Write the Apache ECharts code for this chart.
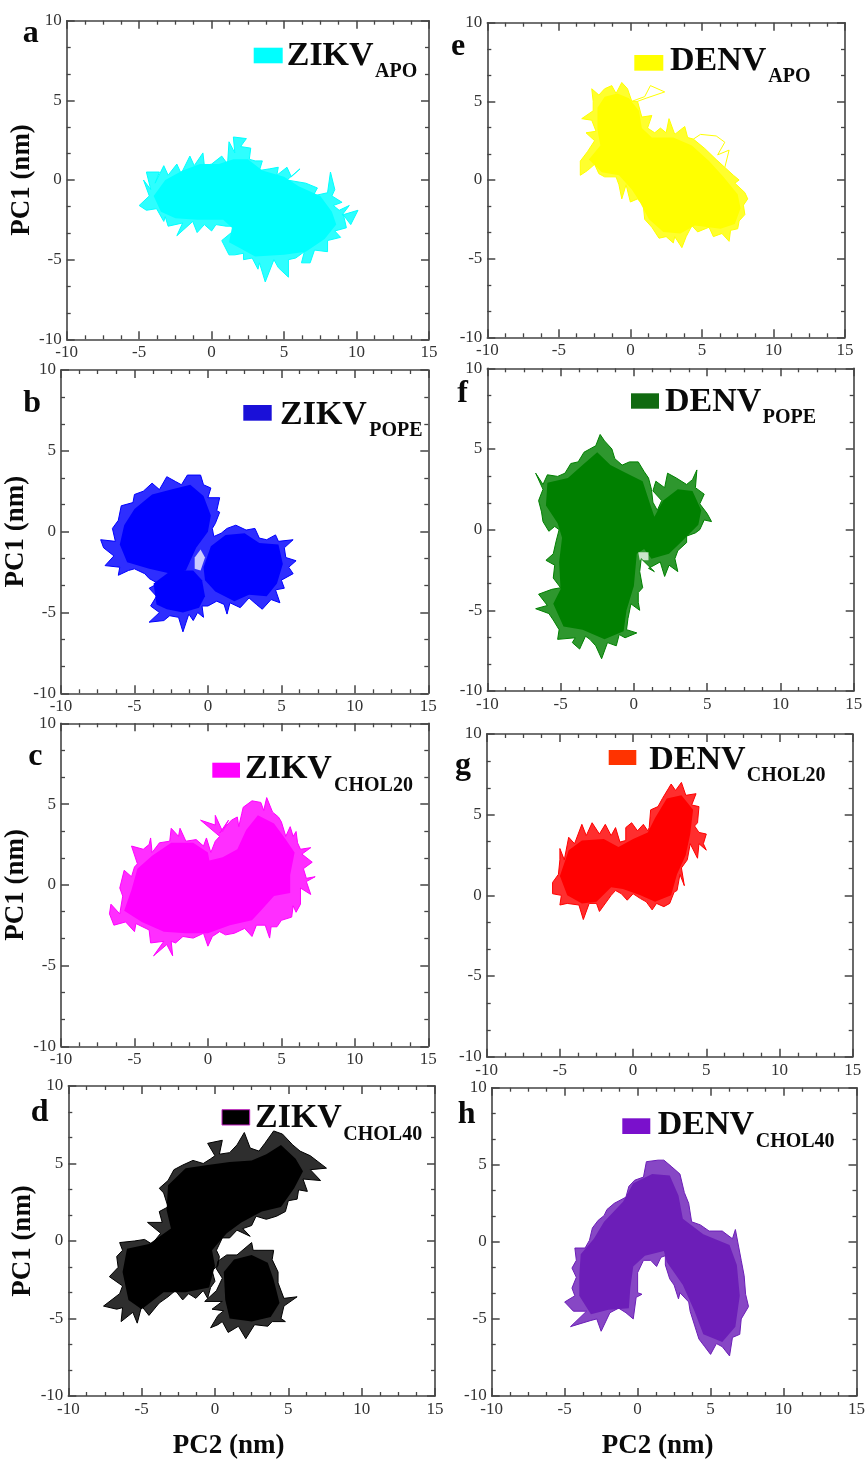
<!DOCTYPE html>
<html><head><meta charset="utf-8">
<style>html,body{margin:0;padding:0;background:#fff}#c{width:868px;height:1461px;filter:blur(0.6px)}</style>
<script src="https://cdn.jsdelivr.net/npm/echarts@6/dist/echarts.min.js"></script>
</head><body><div id="c"></div>
<script>
// Tick labels come from the axes: PC2 from -10 to 15, PC1 from -10 to 10.
const aFringe=[[-5,-1.6],[-4.3,-1],[-4.7,0],[-4.2,-0.6],[-4.5,0.5],[-3.6,0.5],[-3.9,-0.2],[-3.3,0.9],[-3,0.3],[-2.4,1],[-2.1,0.4],[-1.5,1.5],[-1.2,0.9],[-0.6,1.7],[-0.5,0.9],[0,1],[0.7,1.5],[1.1,1],[1.2,2.4],[1.6,1.7],[1.5,2.7],[2.4,2.6],[2,2.1],[2.7,2],[2.6,1.3],[3,1.2],[3.5,1.2],[3.3,0.6],[4,0.7],[4.6,0.8],[4.5,0.3],[5.2,0.8],[5.5,0.2],[6.1,0.7],[5.2,0],[6.5,-0.2],[7.3,-0.5],[7,-1],[8,-0.8],[8.2,0.5],[8.5,-0.6],[8.3,-1],[9,-1.4],[8.4,-1.6],[8.8,-1.9],[9.5,-1.6],[9,-2.2],[10.1,-1.9],[9.6,-2.8],[9.1,-2.2],[9.3,-3],[8.5,-3.2],[8.9,-3.6],[8,-3.8],[8,-4.5],[7.1,-4.4],[6.8,-5.2],[6.2,-5.2],[6.4,-4.5],[5.8,-4.9],[5.3,-5],[5.3,-6.1],[4.6,-5.5],[4.3,-5],[3.7,-6.4],[3.3,-5.2],[3.2,-5.6],[2.8,-4.9],[2.2,-5],[2.2,-4.6],[1.6,-4.7],[1.2,-4.7],[0.7,-3.8],[1.5,-3.2],[1.7,-2.9],[1,-2.9],[0.3,-2.8],[0,-3.2],[-0.5,-2.8],[-1,-3.3],[-1.3,-2.6],[-2.4,-3.5],[-2,-2.7],[-3,-2.9],[-3.2,-2.3],[-3.3,-2.6],[-3.8,-1.8],[-4.5,-1.9],[-5,-1.6]];
const aBody=[[-4,-1],[-3.2,0],[-2,0.6],[-0.8,1],[0.5,1],[1.5,1.3],[2.5,1.3],[3.5,0.6],[5,0.2],[6,-0.4],[7.5,-1],[8.3,-2],[8.6,-2.8],[7.8,-3.7],[6.5,-4.5],[5,-4.7],[3,-4.8],[2,-4.3],[1.2,-3.9],[1.4,-3],[0.8,-2.5],[-1,-2.5],[-2.5,-2.4],[-3.5,-2]];
const eFringe=[[-3.5,0.3],[-3.5,1.2],[-3,1.8],[-2.5,2.5],[-3.1,3],[-2.4,3.1],[-2.7,3.8],[-3.4,3.9],[-2.6,4.4],[-2.6,5],[-2.7,5.8],[-2.2,5.4],[-1.8,5.8],[-1.3,6],[-1,5.5],[-0.6,6.2],[-0.2,5.8],[0.1,5],[0.5,5],[0.8,4],[1.5,4.1],[1.2,3.3],[1.7,3],[2.1,3.3],[2.5,3],[2.7,3.9],[3.1,2.9],[3.8,3.4],[4,2.7],[4.4,2.6],[5.2,2],[6,1.3],[6.6,0.8],[7.2,0.3],[7.6,0],[7.3,-0.2],[8,-0.8],[8.2,-1.2],[7.9,-1.6],[8,-2.2],[7.6,-2.6],[7.5,-3.1],[7,-3.2],[6.9,-3.9],[6.4,-3.4],[5.8,-3.6],[5.5,-3],[4.7,-3.3],[4.3,-2.9],[3.9,-3.6],[3.6,-4.3],[3.1,-3.6],[3,-4],[2.5,-3.6],[2,-3.7],[1.5,-3],[1,-2.5],[0.9,-1.6],[0.5,-1.2],[0,-1.4],[-0.3,-0.3],[-0.6,-1.2],[-0.8,-0.3],[-1,0.2],[-1.8,0.2],[-2.2,0.4],[-2.5,1],[-3,0.6],[-3.5,0.3]];
const eLoopTop=[[0.1,5],[0.4,5.1],[1,5.3],[1.4,6],[2.4,5.6],[1.1,5.2],[0.5,5]];
const eLoopRight=[[4.4,2.6],[4.9,2.9],[6,2.8],[6.6,2.4],[6.1,1.6],[6.9,1.9],[6.6,0.8]];
const eBody=[[-2.9,1.3],[-2.1,2.2],[-2.3,3.2],[-2.3,4.6],[-1.8,5.3],[-0.9,5.5],[-0.1,5.2],[0.6,4.4],[0.8,3.3],[1.5,2.7],[3,2.7],[4.3,2.2],[5.5,1.2],[6.5,0.2],[7.5,-0.9],[7.7,-1.8],[7.3,-2.8],[6.3,-3.1],[4.5,-2.9],[3.5,-3.4],[2.3,-3.3],[1.3,-2.5],[0.6,-1.3],[0.1,-0.6],[-0.8,0.3],[-2,0.5]];
const bFringe=[[-7.3,-0.5],[-6.3,-0.6],[-6.5,0.2],[-6.1,0.7],[-5.9,1.6],[-5.1,1.8],[-5,2.3],[-4.4,2.5],[-3.8,3],[-3.3,2.6],[-2.8,3.4],[-2.2,3.1],[-1.8,2.9],[-1.4,3.5],[-0.5,3.5],[-0.3,2.9],[0.2,2.7],[0,2.1],[0.8,2.1],[0.6,1.3],[0.8,1.2],[0.5,0.5],[0.3,0.2],[0.4,-0.3],[0.9,-0.1],[1.3,0.2],[1.9,0.4],[2.6,0.1],[3.2,0.2],[3.5,-0.4],[4,-0.5],[4.6,-0.2],[4.8,-0.6],[5.8,-0.5],[5.2,-1],[5.3,-1.6],[6,-1.8],[5.5,-2.2],[5.8,-2.6],[5,-3],[5.2,-3.5],[4.6,-3.6],[4.9,-4.4],[4.3,-4.2],[3.7,-4.8],[3.3,-4.5],[2.8,-4.1],[2.2,-4.7],[1.5,-4.4],[1.3,-5.1],[1.1,-4.5],[0.6,-4.3],[0,-4.6],[-0.4,-4.6],[-0.3,-5.3],[-0.7,-5],[-1,-5.5],[-1.3,-5.1],[-1.7,-6.2],[-2,-5.3],[-2.6,-5.2],[-3,-5.5],[-4,-5.6],[-3.3,-5],[-3.9,-4.6],[-3.5,-4],[-4,-3.5],[-3.4,-3.2],[-4,-2.9],[-4.3,-2.6],[-5,-2.3],[-5.4,-2.4],[-6.1,-2.7],[-6,-2.2],[-7,-2.1],[-6.4,-1.5],[-7.1,-1],[-7.3,-0.5]];
const bBodyTop=[[-6,-0.8],[-5.7,0.4],[-5,1.4],[-3.8,2.3],[-2.5,2.6],[-1.2,2.9],[-0.3,2.2],[0.2,1],[0,0],[-0.8,-1],[-1.5,-2.4],[-2.5,-2.6],[-4,-2.3],[-5.5,-1.9]];
const bBodyRight=[[-0.3,-2.2],[0.2,-0.9],[1.2,-0.2],[2.5,-0.1],[3.5,-0.7],[4.8,-0.8],[5.1,-2],[4.7,-3.2],[4,-4],[2.8,-3.9],[1.8,-4.3],[0.5,-3.7],[-0.2,-3]];
const bBodyLow=[[-3.7,-3.2],[-2.5,-2.4],[-1,-2.4],[-0.4,-3],[-0.2,-4],[-0.6,-4.7],[-1.7,-5],[-2.8,-4.8],[-3.5,-4.5]];
const bGap=[[-0.9,-1.6],[-0.5,-1.1],[-0.2,-1.6],[-0.5,-2.4],[-0.9,-2.3]];
const fFringe=[[-6.7,3.5],[-6.2,2.8],[-5.9,3.4],[-5.2,3.3],[-4.7,3.5],[-4.3,4.1],[-3.8,4.2],[-3.4,4.8],[-3,5],[-2.6,5.2],[-2.3,5.9],[-2,5.5],[-1.5,5],[-1.3,4.4],[-0.8,4],[-0.3,4.2],[0.3,4.2],[0.7,3.6],[1,3.2],[1.2,2.5],[1.3,1.7],[1.6,1.2],[1.9,1.8],[1.3,2.4],[1.5,3],[2.1,2.6],[2.3,3.5],[2.9,3.2],[3.6,2.8],[4,3.1],[4.3,3.7],[4.2,2.6],[4.8,2.2],[4.5,1.6],[5,1],[5.3,0.5],[4.8,0.6],[4.5,0],[4.2,-0.2],[3.6,-0.4],[3.6,-0.8],[3,-1.3],[2.8,-1.8],[3,-2.6],[2.4,-2.2],[2.1,-2.9],[1.8,-2],[1,-2.4],[1.4,-2.6],[0.5,-1.8],[0.4,-2.6],[0.6,-3.6],[0.3,-3.9],[0.3,-4.5],[0.4,-5],[-0.2,-4.6],[-0.4,-5.5],[-0.5,-6.2],[0.2,-6.4],[-0.6,-6.7],[-1,-6.5],[-1.2,-7.2],[-1.8,-7],[-2.2,-8],[-2.6,-7.2],[-3,-6.8],[-3.3,-6.6],[-3.7,-7.4],[-4.2,-7],[-4,-6.7],[-5.2,-6.8],[-5.1,-6.2],[-5.5,-5.6],[-5.8,-5.2],[-6.7,-4.9],[-5.9,-4.7],[-6.5,-4],[-5.6,-3.7],[-5,-3.6],[-5.5,-3],[-5.4,-2.2],[-6,-1.9],[-5.5,-1.5],[-5.3,-0.7],[-5.1,0],[-5.4,0.2],[-5.8,-0.1],[-6.2,0.5],[-6.3,1.1],[-6.5,1.8],[-6.2,2.5],[-6.7,3.5]];
const fBody=[[-6,1.5],[-5.9,2.9],[-4.5,3.2],[-3.5,4],[-2.5,4.8],[-1.6,4],[-0.5,3.5],[0.6,3],[1.1,1.6],[1.4,0.8],[2,1.8],[3,2.5],[4,2.4],[4.6,1.2],[4.4,0.3],[3.3,-0.7],[2.4,-1.5],[1.2,-1.8],[0.7,-1.2],[0.2,-1.5],[0,-3.5],[-0.5,-5],[-0.7,-6.3],[-2,-6.8],[-3.5,-6.2],[-4.8,-6],[-5.5,-4.6],[-5,-3.7],[-5.1,-2],[-4.9,-0.5],[-5.2,0.4]];
const fGap=[[0.3,-1.4],[1,-1.4],[1,-1.9],[0.4,-1.9]];
const cFringe=[[-6.7,-1.8],[-6.6,-1.2],[-6,-1.8],[-5.8,-0.7],[-6,-0.2],[-5.7,0.9],[-5.2,0.5],[-5,1.1],[-4.8,1.3],[-5.2,2.4],[-4.4,2.2],[-4,2.5],[-3.9,2.9],[-3.8,2],[-3.3,2.6],[-2.6,2.7],[-2.5,3.5],[-2,3],[-1.9,3.5],[-1.5,2.7],[-0.8,2.8],[-0.3,2.4],[-0.1,2.9],[0.2,2],[0.5,2.7],[0.8,3],[-0.5,4],[0.5,3.7],[0.5,4.3],[1,3.3],[1.4,4],[0.8,3.2],[1.6,4],[2,4.2],[2.1,3.6],[2.3,4.4],[2.4,4.8],[3,5.2],[3.6,5.1],[3.8,4.6],[4,5.4],[4.4,4.5],[4.8,4.2],[5,3.9],[5.3,3],[5.6,3.6],[5.8,3],[6,3.3],[6.1,2.6],[6.3,2.2],[7,2.3],[6.4,1.9],[7.1,1.4],[6.5,1],[6.7,0.4],[7.3,0.5],[6.7,0.2],[7,-0.6],[6.3,-0.2],[6.3,-1.2],[6,-1.7],[5.8,-1.3],[5.7,-2],[5,-2.2],[4.7,-2.6],[4.3,-2.6],[4.2,-3.3],[3.9,-2.5],[3.3,-2.5],[3,-3.2],[2.5,-2.7],[1.8,-3],[1.2,-3.1],[0.8,-2.9],[0.3,-3.2],[0,-3.8],[-0.3,-3],[-1,-3.3],[-1.7,-3.2],[-2.2,-3.6],[-2.5,-3.5],[-2.4,-4.4],[-2.8,-3.7],[-3.7,-4.4],[-3,-3.5],[-3.9,-3.6],[-4,-2.8],[-4.9,-2.4],[-5,-2.9],[-5.6,-2.3],[-6.4,-2.5],[-6.7,-1.8]];
const cBody=[[-5.7,-1.6],[-5.2,-0.3],[-4.8,1],[-3.8,1.8],[-2.5,2.6],[-1,2.6],[0,2],[0.1,1.5],[1,1.7],[2,2.2],[2.6,3.4],[3.4,4.3],[4.5,3.8],[5.3,2.8],[5.9,2],[5.6,0.6],[5.6,-0.5],[4.5,-0.7],[3.6,-1.6],[3,-2.2],[1.5,-2.5],[0,-3],[-1.5,-3],[-3,-2.9],[-4.5,-2.3]];
const gFringe=[[-5.5,0.1],[-5.5,0.8],[-5.1,1.3],[-5,2.2],[-5,2.9],[-4.7,2.2],[-4.4,3.6],[-4,3.2],[-3.5,4.4],[-3.2,3.7],[-2.8,4.5],[-2.3,3.8],[-1.9,4.4],[-1.5,3.7],[-1.2,4.2],[-0.9,3.3],[-0.5,3.4],[-0.5,4.2],[-0.1,4.5],[0.3,4],[0.7,4.4],[1,4],[1.1,4.2],[1.2,5.3],[1.7,5.5],[2,6],[2.4,6.6],[2.6,6.9],[2.9,6.5],[3.3,7],[3.6,6.2],[4.3,6.3],[4,5.6],[4.5,5.5],[4.4,4.5],[4.2,4.3],[4.5,3.9],[5,3.8],[4.8,3.2],[5,2.8],[4.5,3.2],[4.4,2.3],[3.9,3.2],[3.7,2.2],[3.3,1.7],[3.5,0.6],[3.2,1.3],[3,0.3],[2.8,0.2],[2.5,-0.5],[2.1,-0.7],[1.6,-0.5],[1.3,-0.9],[0.9,-0.4],[0.5,-0.2],[0,0.1],[-0.4,-0.3],[-0.8,0.1],[-1.2,0.3],[-1.5,0],[-2.3,-1],[-2.5,-0.5],[-3,-0.5],[-3.4,-1.5],[-3.7,-0.6],[-4.5,-0.5],[-5,-0.6],[-4.9,0],[-5.5,0.1]];
const gBody=[[-5,1.2],[-4.4,2.8],[-3.5,3.4],[-2,3.5],[-1,3],[0,3.5],[1,3.9],[1.5,4.8],[2.3,6],[3.3,6.2],[4.1,5.3],[3.9,3.8],[3.6,2.5],[3,1.3],[2.6,0],[1.5,-0.4],[0.5,0],[-0.7,0.4],[-1.5,0.5],[-2.5,-0.4],[-3.5,-0.5],[-4.5,0]];
const dFringe=[[-7.6,-4.2],[-6.5,-3.4],[-6.3,-2.9],[-7.2,-2.3],[-6.6,-1.7],[-6.7,-1],[-6.3,-0.6],[-6.5,-0.1],[-5.5,0],[-4.8,0.1],[-4.3,-0.2],[-3.7,0.5],[-4.6,1.2],[-3.6,1.2],[-3.8,1.9],[-3.2,2.2],[-3.5,3.1],[-3.8,3.4],[-3.2,3.9],[-2.8,4.6],[-2.2,4.9],[-1.5,5.2],[-0.8,5],[-0.3,5.3],[0,5.5],[-0.5,6.3],[0.5,6.5],[0.3,5.6],[1,5.7],[1.5,6.2],[2,7],[2.4,6],[3,5.8],[3.4,6.3],[4,7.1],[4.6,6.9],[5.3,6.2],[5.8,5.8],[6.5,5.5],[7.6,4.7],[6.5,4.6],[7.2,3.9],[6,4],[6.3,3.2],[5.7,3.3],[5.6,2.7],[5,2.6],[4.8,1.9],[4.2,1.6],[3.5,1.4],[2.8,1.6],[2.5,1],[1.9,0.8],[2.4,0.3],[1.5,0.7],[1,0.2],[0.5,0.2],[0.1,-0.6],[0.3,-1],[0.2,-1.6],[-0.2,-1.9],[0,-2.6],[-0.3,-3],[-0.5,-3.7],[-0.8,-3.2],[-1.3,-3.7],[-1.8,-3.4],[-2.2,-3.8],[-2.7,-3.2],[-3.2,-3.6],[-3.8,-4],[-4.5,-4.8],[-5,-4.2],[-5.3,-5.3],[-5.6,-4.6],[-6.4,-5.2],[-6.3,-4.3],[-6.7,-4.4],[-7.6,-4.2]];
const dFringeLow=[[0.2,-1.3],[0.8,-0.9],[1.5,-0.9],[2.5,-0.1],[2.6,-0.6],[3,-0.6],[4,-0.6],[3.9,-1.2],[4.3,-2],[4.3,-2.7],[4.7,-3.7],[5.6,-3.6],[4.7,-4.2],[4.5,-5],[4.8,-5.2],[3.9,-5.2],[3.6,-5.5],[2.7,-5.4],[2.1,-6.3],[1.6,-5.5],[0.9,-5.9],[0.5,-5.2],[0.2,-5.4],[-0.3,-5.6],[0.2,-4.8],[0.6,-4.5],[-0.2,-4.4],[0.5,-3.9],[-0.7,-3.9],[0.1,-3.2],[0.5,-2.4],[0.1,-1.8],[0.2,-1.3]];
const dBodyMain=[[-6.3,-2],[-6,-0.5],[-4.5,-0.2],[-3,0.8],[-3.3,2],[-3.2,3.6],[-2,4.7],[-0.5,4.9],[1,5.1],[2.5,5.2],[3.5,5.6],[4.5,6.2],[5.5,5.3],[6,4.5],[5.4,3.4],[4.5,2.2],[3.2,1.9],[1.8,1.2],[0.8,0.5],[-0.2,-0.6],[0,-1.6],[-0.4,-3],[-2,-3.3],[-3.5,-3.3],[-5,-4.4],[-5.9,-3.8]];
const dBodyLow=[[0.6,-2],[1.3,-1.2],[2.5,-0.9],[3.6,-1.4],[4,-2.5],[4.4,-4],[3.8,-4.9],[2.5,-5.2],[1,-5],[0.7,-3.8]];
const hFringe=[[-5,-3.9],[-4.3,-3.5],[-4.5,-3],[-4.2,-2.3],[-4.5,-1.7],[-4.2,-1.2],[-4.3,-0.4],[-3.6,-0.4],[-3.3,0.1],[-3.1,0.9],[-2.7,1.4],[-2.3,1.7],[-2.1,2.1],[-1.6,2.5],[-0.8,2.9],[-0.6,3.6],[-0.2,4],[0.4,4.2],[0.6,5.2],[1.4,5.3],[1.8,5.3],[2.3,4.9],[2.9,4.4],[3.2,3.2],[3.5,2.5],[3.7,1.3],[4.3,1.1],[4.9,0.7],[5.8,0.7],[6.5,0.2],[6.7,0.8],[6.9,-0.2],[7.1,-1.2],[7.3,-2.2],[7.4,-3.4],[7.6,-4.2],[7.1,-5],[7,-6],[6.5,-6.2],[6.3,-7.4],[5.8,-6.8],[5.4,-6.6],[5,-7.3],[4.6,-6.8],[4.2,-6.3],[3.9,-5.4],[3.6,-4.5],[3.5,-3.9],[2.9,-3.3],[2.8,-3.7],[2.5,-2.8],[2.2,-2.4],[1.9,-1.5],[1.9,-0.9],[1.6,-1],[1.3,-1.6],[0.9,-1.2],[0.4,-1.2],[0,-2],[0,-3.3],[0.3,-3.4],[-0.1,-3.6],[-0.3,-5],[-0.8,-4.6],[-1.3,-4.3],[-1.9,-4.6],[-2.5,-5.8],[-2.8,-5],[-3.2,-5.1],[-4.6,-5.5],[-3.5,-4.5],[-4.4,-4.5],[-5,-3.9]];
const hBody=[[-4,-2.2],[-3.9,-0.8],[-3,0.2],[-2.3,1.3],[-1,2.6],[-0.3,3.8],[1,4.4],[2.2,4.3],[2.8,3],[3.1,1.5],[4.5,0.5],[6.3,-0.2],[6.8,-1.5],[7,-3.5],[6.7,-5.5],[5.8,-6.5],[4.5,-6],[3.9,-4.5],[3.1,-2.8],[2,-1.3],[1.8,-0.6],[0.5,-0.9],[-0.3,-1.6],[-0.5,-3],[-0.6,-4.3],[-2,-4.4],[-3.2,-4.7],[-4,-3.5]];

const panels=[
 {f:[66.7,429,20.7,339.3],c:'#00ffff',sw:'#00ffff',rims:[aFringe],lines:[],bodies:[aBody],letter:['a',22.7,43],rect:[253.7,47.7,29,15.6],main:['ZIKV',286.7,66],sub:['APO',375,78.3],yn:28},
 {f:[487.3,845,22.7,337.3],c:'#ffff00',sw:'#ffff00',rims:[eFringe],lines:[eLoopTop,eLoopRight],bodies:[eBody],letter:['e',451,56.7],rect:[634.3,55,29,15.7],main:['DENV',670,71],sub:['APO',768.3,83.3]},
 {f:[61,428.3,370,693.3],c:'#0000ff',sw:'#1a10d8',rims:[bFringe],lines:[],gaps:[bGap],bodies:[bBodyTop,bBodyRight,bBodyLow],letter:['b',23.3,413.3],rect:[243.3,405,28.4,15.7],main:['ZIKV',280,425],sub:['POPE',369.3,437.3],yn:25},
 {f:[487.3,853.7,368.3,691],c:'#008000',sw:'#106a10',rims:[fFringe],lines:[],gaps:[fGap],bodies:[fBody],letter:['f',457.3,403.3],rect:[631,393.3,28,15.4],main:['DENV',665,412.7],sub:['POPE',762.7,424.3]},
 {f:[61,428.3,723.3,1046.3],c:'#ff00ff',sw:'#ff00ff',rims:[cFringe],lines:[],bodies:[cBody],letter:['c',28.3,766.7],rect:[212.3,762.7,27.7,15],main:['ZIKV',245,779],sub:['CHOL20',334,791.7],yn:28},
 {f:[486.7,852.7,734,1056.7],c:'#ff0000',sw:'#ff3300',rims:[gFringe],lines:[],bodies:[gBody],letter:['g',455,775],rect:[608.7,750,27.6,15],main:['DENV',649.3,770],sub:['CHOL20',746.7,782.3]},
 {f:[68.3,435,1086,1408.3],c:'#000000',sw:'#000000',border:'#c020c0',rims:[dFringe,dFringeLow],lines:[],bodies:[dBodyMain,dBodyLow],letter:['d',30.7,1122.7],rect:[222,1109.7,27.7,15.3],main:['ZIKV',255,1128.3],sub:['CHOL40',343.3,1140.7],yn:30,xn:46},
 {f:[491.7,860.7,1087.7,1412.3],c:'#6c1eb8',sw:'#7a10cc',rims:[hFringe],lines:[],bodies:[hBody],letter:['h',457.7,1124.3],rect:[622.3,1118.3,28,15.7],main:['DENV',657.7,1135.7],sub:['CHOL40',755.7,1147.7],xn:33}
];
const serif="'Liberation Serif','Times New Roman',serif";
const RIM_OPACITY=0.82;
const grid=[],xAxis=[],yAxis=[],series=[],graphic=[];
const axisCol='#444';
function ax(extra){return Object.assign({min:-10,max:10,interval:5,splitLine:{show:false},
  axisLine:{onZero:false,lineStyle:{color:axisCol,width:1.6}},
  axisTick:{show:true,inside:true,length:8,lineStyle:{color:axisCol,width:1.5}},
  axisLabel:{show:true,color:'#333',fontFamily:serif,fontSize:17,margin:5,showMinLabel:true,showMaxLabel:true,hideOverlap:false}},extra);}
function minor(n){return {show:true,splitNumber:n,length:4,lineStyle:{color:axisCol,width:1.3}};}
function txt(t,x,base,size){graphic.push({type:'text',x:x,y:base-0.3*size,silent:true,
  style:{text:t,font:'bold '+size+'px '+serif,fill:'#0a0a0a',align:'left',verticalAlign:'middle'}});}
const nameStyle={fontFamily:serif,fontWeight:'bold',fontSize:27,color:'#0a0a0a'};
function poly(pts,xi,yi,fill,opacity){
  series.push({type:'custom',xAxisIndex:xi,yAxisIndex:yi,data:pts,encode:{x:0,y:1},clip:true,silent:true,animation:false,
    renderItem:(params,api)=>{
      if(params.dataIndex!==0)return null;
      return {type:'polygon',shape:{points:pts.map(q=>api.coord(q))},style:{fill:fill,opacity:opacity}};
    }});
}
function path(pts,xi,yi,color){
  series.push({type:'line',xAxisIndex:xi,yAxisIndex:yi,data:pts,showSymbol:false,symbol:'none',silent:true,animation:false,smooth:false,
    lineStyle:{color:color,width:1}});
}
panels.forEach((p,i)=>{
  const [l,r,t,b]=p.f;
  grid.push({left:l,top:t,width:r-l,height:b-t});
  const xm=ax({gridIndex:i,type:'value',position:'bottom',min:-10,max:15,minorTick:minor(4)});
  if(p.xn){xm.name='PC2 (nm)';xm.nameLocation='middle';xm.nameGap=37;xm.nameTextStyle=Object.assign({},nameStyle,{padding:[0,p.xn,0,0]});}
  xAxis.push(xm);
  xAxis.push(ax({gridIndex:i,type:'value',position:'top',min:-10,max:15,axisLabel:{show:false},minorTick:minor(4)}));
  const ym=ax({gridIndex:i,type:'value',position:'left',minorTick:minor(3)});
  if(p.yn){ym.name='PC1 (nm)';ym.nameLocation='middle';ym.nameGap=p.yn;ym.nameRotate=90;ym.nameTextStyle=nameStyle;}
  yAxis.push(ym);
  yAxis.push(ax({gridIndex:i,type:'value',position:'right',axisLabel:{show:false},minorTick:minor(3)}));
  const xi=i*2,yi=i*2;
  p.rims.forEach(rim=>poly(rim,xi,yi,p.c,RIM_OPACITY));
  p.bodies.forEach(body=>poly(body,xi,yi,p.c,1));
  (p.gaps||[]).forEach(gap=>poly(gap,xi,yi,'#ffffff',0.75));
  p.rims.concat(p.lines).forEach(line=>path(line,xi,yi,p.c));
  graphic.push({type:'rect',silent:true,shape:{x:p.rect[0],y:p.rect[1],width:p.rect[2],height:p.rect[3]},
    style:{fill:p.sw,stroke:p.border||null,lineWidth:p.border?1:0}});
  txt(p.letter[0],p.letter[1],p.letter[2],32);
  txt(p.main[0],p.main[1],p.main[2],34);
  txt(p.sub[0],p.sub[1],p.sub[2],20);
});
const chart=echarts.init(document.getElementById('c'),null,{renderer:'canvas',width:868,height:1461});
chart.setOption({animation:false,backgroundColor:'#fff',tooltip:{show:false},grid,xAxis,yAxis,series,graphic});
</script></body></html>
